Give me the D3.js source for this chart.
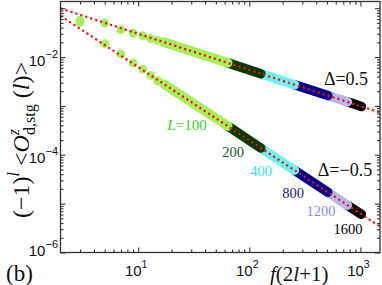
<!DOCTYPE html>
<meta charset="utf-8">
<style>
    body { margin: 0; background: #fff; }
    svg text { font-family: "Liberation Serif", "Times New Roman", serif; }
    .tick-label { font-family: "Liberation Sans", Arial, sans-serif; font-size: 15px; fill: #111; }
    .axis line { stroke: #333; stroke-width: 1.1; }
    .frame { fill: none; stroke: #333; stroke-width: 1.3; }
    .fit { fill: none; stroke: #f01010; stroke-width: 2.2; stroke-dasharray: 2.2 3; }
</style>
<svg width="382" height="285"></svg>
<script src="https://cdn.jsdelivr.net/npm/d3@7"></script>
<script>

    // system sizes and the colours used for each of them
    var Ls = [100, 200, 400, 800, 1200, 1600];
    var bandColors = ["#a8ef5c", "#053a05", "#6cf3f3", "#00008a", "#b6b6f3", "#000000"];
    var labelColors = ["#3ad42a", "#1e561e", "#36e0ef", "#1c1c8c", "#8c8ce0", "#000000"];

    // first few distances, L=100 (separate dots)
    var xSmall = [3, 5, 7, 9, 11, 13, 15];
    var ySmallUp = [0.0566, 0.0497, 0.0362, 0.0310, 0.0273, 0.0237, 0.0219];
    var ySmallDn = [0.0515, 0.0187, 0.0115, 0.00754, 0.00568, 0.00420, 0.00327];

    // where the dense part starts, and where each L stops
    var xStart = 17;
    var yStartUp = 0.0202, yStartDn = 0.00281;
    var xEnd = [64, 127, 255, 509, 764, 1019];
    var yEndUp = [7.6e-3, 4.56e-3, 2.72e-3, 1.63e-3, 1.21e-3, 9.75e-4];
    var yEndDn = [3.88e-4, 1.37e-4, 4.84e-5, 1.71e-5, 9.3e-6, 6.06e-6];

    // power-law fits (end points)
    var fitX = [2, 1500];
    var fitUp = [0.0989, 7.32e-4];
    var fitDn = [0.0697, 3.39e-6];

    var xMajor = [10, 100, 1000];
    var xLabelExp = ["1", "2", "3"];
    var yMajor = [1e-6, 1e-5, 1e-4, 1e-3, 1e-2, 1e-1];
    var yLabeled = [1e-6, 1e-4, 1e-2];
    var yLabelExp = ["\u22126", "\u22124", "\u22122"];

    var pL = 60.5, pR = 380, pT = 1.5, pB = 252.5;

    var x = d3.scaleLog().domain([2, 1500]).range([pL, pR]);
    var y = d3.scaleLog().domain([1e-6, 0.137]).range([pB, pT]);

    function minors(dom) {
        var out = [];
        for (var e = -7; e < 4; e++)
            for (var m = 2; m < 10; m++) {
                var v = m * Math.pow(10, e);
                if (v > dom[0] && v < dom[1]) out.push(v);
            }
        return out;
    }

    var svg = d3.select("svg");

    svg.append("clipPath").attr("id", "clip")
        .append("rect").attr("x", pL).attr("y", pT)
        .attr("width", pR - pL).attr("height", pB - pT);

    var plot = svg.append("g").attr("clip-path", "url(#clip)");

    var line = d3.line()
        .x(function(d) { return x(d[0]); })
        .y(function(d) { return y(d[1]); });

    // bands: biggest L first so the smaller ones lie on top
    [ {ys: yStartUp, ye: yEndUp}, {ys: yStartDn, ye: yEndDn} ].forEach(function(s) {
        for (var i = Ls.length - 1; i >= 0; i--) {
            var p0 = i == 0 ? [xStart, s.ys] : [xEnd[i - 1], s.ye[i - 1]];
            plot.append("path")
                .attr("d", line([p0, [xEnd[i], s.ye[i]]]))
                .attr("fill", "none")
                .attr("stroke", bandColors[i])
                .attr("stroke-width", 9.5)
                .attr("stroke-linecap", "round");
        }
    });

    [ySmallUp, ySmallDn].forEach(function(ys) {
        plot.selectAll(null)
            .data(xSmall.map(function(v, i) { return [v, ys[i]]; }))
            .enter().append("circle")
            .attr("cx", function(d) { return x(d[0]); })
            .attr("cy", function(d) { return y(d[1]); })
            .attr("r", 4.4)
            .attr("fill", bandColors[0]);
    });

    [fitUp, fitDn].forEach(function(f) {
        plot.append("path").attr("class", "fit")
            .attr("d", line(fitX.map(function(v, i) { return [v, f[i]]; })));
    });

    // ticks on all four sides, pointing inward
    function addAxis(axis, tr) {
        svg.append("g").attr("class", "axis").attr("transform", tr)
            .call(axis)
            .call(function(g) { g.select(".domain").remove(); });
    }
    var xMin = minors(x.domain()), yMin = minors(y.domain());
    addAxis(d3.axisBottom(x).tickValues(xMajor).tickSize(-5).tickFormat(""), "translate(0," + pB + ")");
    addAxis(d3.axisBottom(x).tickValues(xMin).tickSize(-3).tickFormat(""), "translate(0," + pB + ")");
    addAxis(d3.axisTop(x).tickValues(xMajor).tickSize(-5).tickFormat(""), "translate(0," + pT + ")");
    addAxis(d3.axisTop(x).tickValues(xMin).tickSize(-3).tickFormat(""), "translate(0," + pT + ")");
    addAxis(d3.axisLeft(y).tickValues(yMajor).tickSize(-5).tickFormat(""), "translate(" + pL + ",0)");
    addAxis(d3.axisLeft(y).tickValues(yMin).tickSize(-3).tickFormat(""), "translate(" + pL + ",0)");
    addAxis(d3.axisRight(y).tickValues(yMajor).tickSize(-5).tickFormat(""), "translate(" + pR + ",0)");
    addAxis(d3.axisRight(y).tickValues(yMin).tickSize(-3).tickFormat(""), "translate(" + pR + ",0)");

    svg.append("rect").attr("class", "frame")
        .attr("x", pL).attr("y", pT)
        .attr("width", pR - pL).attr("height", pB - pT);

    // tick labels 10^n
    xMajor.forEach(function(v, i) {
        var t = svg.append("text").attr("class", "tick-label")
            .attr("x", x(v) - 2).attr("y", 276).attr("text-anchor", "middle");
        t.append("tspan").text("10");
        t.append("tspan").attr("dy", -8).style("font-size", "10.5px").text(xLabelExp[i]);
    });
    yLabeled.forEach(function(v, i) {
        var yy = y(v) + (i == 0 ? 3 : 8.5);
        var t = svg.append("text").attr("class", "tick-label")
            .attr("x", pL - 2.5).attr("y", yy).attr("text-anchor", "end");
        t.append("tspan").text("10");
        t.append("tspan").attr("dy", -8).style("font-size", "11px").text(yLabelExp[i]);
    });

    // curve labels
    var lab = svg.append("text").attr("x", 187).attr("y", 130)
        .attr("text-anchor", "middle").style("font-size", "15px").attr("fill", labelColors[0]);
    lab.append("tspan").style("font-style", "italic").text("L");
    lab.append("tspan").text("=" + Ls[0]);

    var labPos = [null, [233, 157], [261, 176], [293, 198], [321, 216], [348, 234]];
    for (var i = 1; i < Ls.length; i++) {
        svg.append("text").attr("x", labPos[i][0]).attr("y", labPos[i][1])
            .attr("text-anchor", "middle").style("font-size", "14.5px")
            .attr("fill", labelColors[i]).text(Ls[i]);
    }

    svg.append("text").attr("x", 346).attr("y", 85).attr("text-anchor", "middle")
        .style("font-size", "18px").attr("fill", "#111").text("\u0394=0.5");
    svg.append("text").attr("x", 345).attr("y", 176).attr("text-anchor", "middle")
        .style("font-size", "18px").attr("fill", "#111").text("\u0394=\u22120.5");

    // axis titles
    var xt = svg.append("text").attr("x", 270).attr("y", 281).style("font-size", "21px").attr("fill", "#111");
    xt.append("tspan").style("font-style", "italic").text("f");
    xt.append("tspan").text("(2");
    xt.append("tspan").style("font-style", "italic").text("l");
    xt.append("tspan").text("+1)");

    svg.append("text").attr("x", 6).attr("y", 281).style("font-size", "23px").attr("fill", "#111").text("(b)");

    var yt = svg.append("text").attr("transform", "translate(29,140) rotate(-90)")
        .attr("text-anchor", "middle").style("font-size", "24px").attr("fill", "#111");
    yt.append("tspan").text("(\u22121)");
    yt.append("tspan").attr("dy", -10).style("font-size", "16px").style("font-style", "italic").text("l");
    yt.append("tspan").attr("dy", 10).text(" <");
    yt.append("tspan").style("font-style", "italic").text("O");
    yt.append("tspan").attr("dy", -10).style("font-size", "16px").style("font-style", "italic").text("z");
    yt.append("tspan").attr("dx", -6).attr("dy", 16).style("font-size", "16px").text("d,stg");
    yt.append("tspan").attr("dy", -6).text(" (");
    yt.append("tspan").style("font-style", "italic").text("l");
    yt.append("tspan").text(")>");

</script>
